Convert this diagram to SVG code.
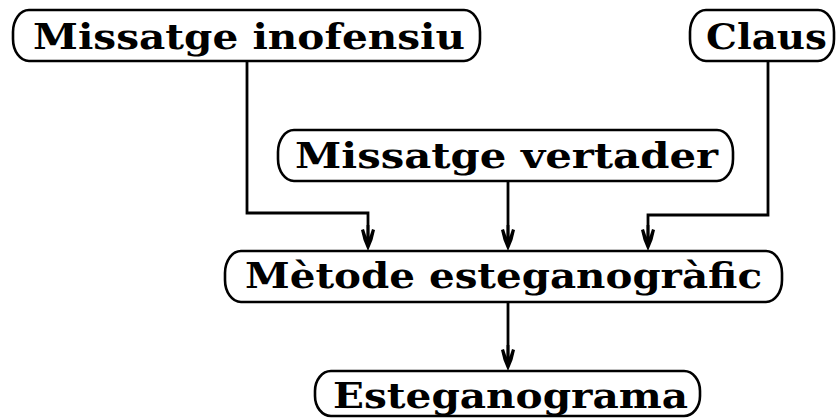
<svg xmlns="http://www.w3.org/2000/svg" width="837" height="419" viewBox="0 0 837 419">
<style>
.box{fill:#fff;stroke:#000;stroke-width:2.6}
.lbl{font-family:"DejaVu Serif","Liberation Serif",serif;font-weight:bold;font-size:36px;fill:#000}
.edge{fill:none;stroke:#000;stroke-width:2.8}
</style>
<defs>
<path id="ah" d="M0,0 L-4.5,-11 L-7,-21 L-4,-22 L-1.4,-14 L-1.4,-26 L1.4,-26 L1.4,-14 L4,-22 L7,-21 L4.5,-11 Z" fill="#000"/>
</defs>
<rect width="837" height="419" fill="#fff"/>
<g id="connectors">
<path class="edge" d="M247,61 V213 H368 V240"/>
<path class="edge" d="M508,181 V240"/>
<path class="edge" d="M768,61 V215 H648 V240"/>
<path class="edge" d="M508,302 V360"/>
<use href="#ah" x="368" y="251"/>
<use href="#ah" x="508" y="251"/>
<use href="#ah" x="648" y="251"/>
<use href="#ah" x="508" y="371"/>
</g>
<g id="n1">
<rect class="box" x="13" y="10" width="467" height="51" rx="16" ry="22"/>
<text class="lbl" x="33" y="49" textLength="432" lengthAdjust="spacingAndGlyphs">Missatge inofensiu</text>
</g>
<g id="n2">
<rect class="box" x="690" y="10" width="144" height="51" rx="16" ry="22"/>
<text class="lbl" x="706" y="49" textLength="121" lengthAdjust="spacingAndGlyphs">Claus</text>
</g>
<g id="n3">
<rect class="box" x="278" y="130" width="455" height="51" rx="16" ry="22"/>
<text class="lbl" x="295" y="168" textLength="423" lengthAdjust="spacingAndGlyphs">Missatge vertader</text>
</g>
<g id="n4">
<rect class="box" x="225" y="251" width="557" height="51" rx="16" ry="22"/>
<text class="lbl" x="245" y="288" textLength="517" lengthAdjust="spacingAndGlyphs">Mètode esteganogràfic</text>
</g>
<g id="n5">
<rect class="box" x="315" y="371" width="385" height="45" rx="16" ry="20"/>
<text class="lbl" x="333" y="408" textLength="355" lengthAdjust="spacingAndGlyphs">Esteganograma</text>
</g>
</svg>
